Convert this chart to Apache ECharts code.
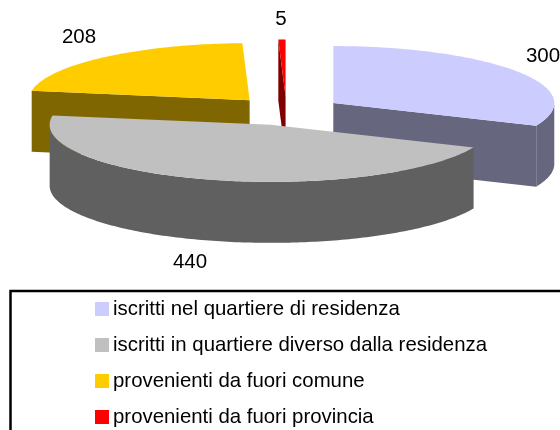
<!DOCTYPE html>
<html>
<head>
<meta charset="utf-8">
<style>html,body{margin:0;padding:0;background:#fff}#c{width:560px;height:430px}</style>
<script src="https://cdn.jsdelivr.net/npm/echarts@6/dist/echarts.min.js"></script>
</head>
<body>
<div id="c"></div>
<script>
const categories = ['iscritti nel quartiere di residenza','iscritti in quartiere diverso dalla residenza','provenienti da fuori comune','provenienti da fuori provincia'];
const values = [300, 440, 208, 5];
const topColors = ['#CCCCFF','#C0C0C0','#FFCC00','#FF0000'];
const wallColors = ['#66667F','#606060','#806600','#800000'];
const drawOrder = [2, 3, 0, 1];
const labelPositions = [[543,56],[190,262],[79,37],[281,19]];
const pie = {cx:286.5, cy:111, rx:221, ry:57, depth:61, explode:56};
const font = '"Liberation Sans", Arial, sans-serif';

const total = values.reduce((a,b)=>a+b,0);
const starts = [];
values.reduce((acc,v,i)=>{starts[i]=acc;return acc+v;},0);

function renderSlice(i){
  return function(params, api){
    const v = api.value(0);
    const a0 = starts[i]/total*360, a1 = (starts[i]+v)/total*360;
    const rad = d=>d*Math.PI/180;
    const mid = rad((a0+a1)/2);
    const cx = pie.cx + pie.explode*Math.sin(mid);
    const cy = pie.cy - pie.explode*Math.cos(mid)*pie.ry/pie.rx;
    const pt = (d,dz)=>[cx+pie.rx*Math.sin(rad(d)), cy-pie.ry*Math.cos(rad(d))+(dz||0)];
    const arc = (from,to,dz)=>{
      const out=[], n=Math.max(2,Math.ceil(Math.abs(to-from)));
      for(let k=0;k<=n;k++) out.push(pt(from+(to-from)*k/n,dz));
      return out;
    };
    const poly=(points,fill)=>({type:'polygon',shape:{points},style:{fill,stroke:null}});
    const children=[];
    const wall=wallColors[i];
    if(a0>180){
      children.push(poly([pt(a0),[cx,cy],[cx,cy+pie.depth],pt(a0,pie.depth)],wall));
    }
    if(a1<180){
      children.push(poly([[cx,cy],pt(a1),pt(a1,pie.depth),[cx,cy+pie.depth]],wall));
    }
    const r0=Math.max(a0,90), r1=Math.min(a1,270);
    if(r1>r0){
      children.push(poly(arc(r0,r1,0).concat(arc(r1,r0,pie.depth)),wall));
    }
    children.push(poly([[cx,cy]].concat(arc(a0,a1,0)),topColors[i]));
    return {type:'group',children};
  };
}

const series = drawOrder.map(i=>({
  type:'custom',
  name:categories[i],
  coordinateSystem:'none',
  itemStyle:{color:topColors[i]},
  data:[[values[i]]],
  renderItem:renderSlice(i),
  silent:true,
  animation:false
}));

const chart = echarts.init(document.getElementById('c'),null,{renderer:'canvas'});
chart.setOption({
  animation:false,
  backgroundColor:'#fff',
  legend:{
    data:categories,
    orient:'vertical',
    left:90, top:294, height:170,
    itemWidth:14, itemHeight:14, itemGap:16,
    icon:'rect',
    selectedMode:false,
    textStyle:{fontFamily:font,fontSize:20.4,color:'#000',padding:[0,0,0,-1]}
  },
  series,
  graphic:[
    {type:'rect',z:-1,shape:{x:10.5,y:291,width:700,height:300},style:{fill:'#fff',stroke:'#000',lineWidth:2.5}}
  ].concat(values.map((v,i)=>({
    type:'text',z:20,x:labelPositions[i][0],y:labelPositions[i][1],
    style:{text:String(v),font:'20.5px '+font,fill:'#000',textAlign:'center',textVerticalAlign:'middle'}
  })))
});
</script>
</body>
</html>
